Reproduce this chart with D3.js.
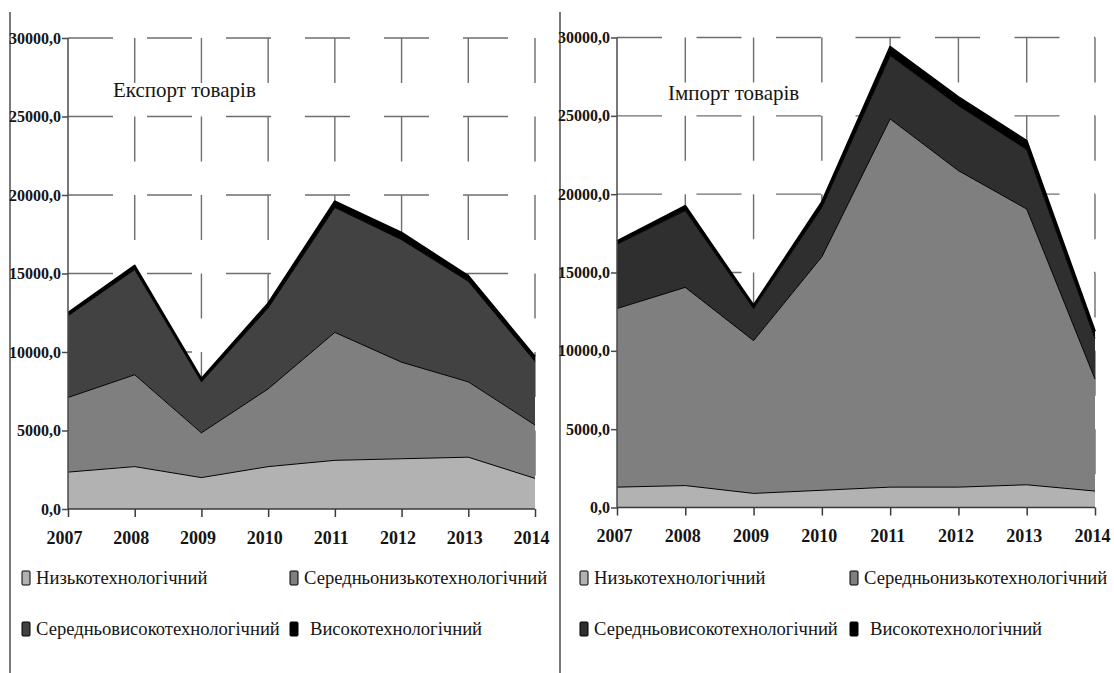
<!DOCTYPE html>
<html>
<head>
<meta charset="utf-8">
<script src="https://cdn.jsdelivr.net/npm/d3@7"></script>
<style>
  body { margin: 0; background: #fff; }
  text { font-family: 'Liberation Serif', 'DejaVu Serif', serif; fill: #151515; }
</style>
</head>
<body>
<div id="chart"></div>
<script>
// Years on the x axis
const years = [2007, 2008, 2009, 2010, 2011, 2012, 2013, 2014]

const seriesNames = [
  'Низькотехнологічний',
  'Середньонизькотехнологічний',
  'Середньовисокотехнологічний',
  'Високотехнологічний'
]

// Export of goods
const exportLow = [2350, 2700, 2000, 2700, 3100, 3200, 3300, 1950]
const exportMidLow = [4750, 5850, 2850, 4950, 8150, 6150, 4800, 3400]
const exportMidHigh = [5200, 6700, 3250, 5150, 7950, 7800, 6400, 4050]
const exportHigh = [200, 250, 200, 300, 400, 450, 350, 300]

// Import of goods
const importLow = [1300, 1400, 900, 1100, 1300, 1300, 1450, 1050]
const importMidLow = [11400, 12650, 9750, 14900, 23500, 20200, 17600, 7150]
const importMidHigh = [4100, 4900, 2050, 3150, 4050, 4150, 3800, 2600]
const importHigh = [200, 300, 200, 350, 550, 550, 550, 450]

const yTicks = [0, 5000, 10000, 15000, 20000, 25000, 30000]

const width = 1114
const height = 673

const svg = d3
  .select('#chart')
  .append('svg')
  .attr('width', width)
  .attr('height', height)

// panel dividers
svg.append('line')
  .attr('x1', 10).attr('x2', 10).attr('y1', 12).attr('y2', height)
  .attr('stroke', '#7a7a7a').attr('stroke-width', 2)
svg.append('line')
  .attr('x1', 560).attr('x2', 560).attr('y1', 12).attr('y2', height)
  .attr('stroke', '#7a7a7a').attr('stroke-width', 2)

const fmt = d => d3.format('.1f')(d).replace('.', ',')

function drawPanel(opts) {
  const rows = years.map((year, i) => ({
    year: year,
    low: opts.values[0][i],
    midLow: opts.values[1][i],
    midHigh: opts.values[2][i],
    high: opts.values[3][i]
  }))
  const keys = ['low', 'midLow', 'midHigh', 'high']
  const stacked = d3.stack().keys(keys)(rows)

  const xPositionScale = d3.scalePoint().domain(years).range(opts.xRange)
  const yPositionScale = d3.scaleLinear().domain([0, 30000]).range(opts.yRange)

  const left = opts.xRange[0]
  const right = opts.xRange[1]
  const step = yPositionScale(25000) - yPositionScale(30000)

  const g = svg.append('g')

  // dashed background grid
  g.selectAll('.h-grid')
    .data(yTicks.filter(d => d > 0))
    .enter()
    .append('line')
    .attr('x1', left)
    .attr('x2', right)
    .attr('y1', d => yPositionScale(d))
    .attr('y2', d => yPositionScale(d))
    .attr('stroke', '#6e6e6e')
    .attr('stroke-width', 1.4)
    .attr('stroke-dasharray', '45,' + (opts.hPeriod - 45))

  g.selectAll('.v-grid')
    .data(years.slice(1))
    .enter()
    .append('line')
    .attr('x1', d => xPositionScale(d))
    .attr('x2', d => xPositionScale(d))
    .attr('y1', yPositionScale(30000))
    .attr('y2', yPositionScale(0))
    .attr('stroke', '#6e6e6e')
    .attr('stroke-width', 1.4)
    .attr('stroke-dasharray', '45,' + (step - 45))

  const area = d3.area()
    .x(d => xPositionScale(d.data.year))
    .y0(d => yPositionScale(d[0]))
    .y1(d => yPositionScale(d[1]))

  const topLine = d3.line()
    .x(d => xPositionScale(d.data.year))
    .y(d => yPositionScale(d[1]))

  g.selectAll('.area')
    .data(stacked)
    .enter()
    .append('path')
    .attr('d', area)
    .attr('fill', (d, i) => opts.colors[i])

  g.selectAll('.top-line')
    .data(stacked)
    .enter()
    .append('path')
    .attr('d', topLine)
    .attr('fill', 'none')
    .attr('stroke', '#000')
    .attr('stroke-width', (d, i) => i === 3 ? 2 : 1)
    .attr('stroke-linejoin', 'round')

  // axes
  const yAxis = d3.axisLeft(yPositionScale)
    .tickValues(yTicks)
    .tickSize(6)
    .tickPadding(1)
    .tickFormat(fmt)

  const yG = g.append('g')
    .attr('transform', 'translate(' + left + ',0)')
    .call(yAxis)
  yG.selectAll('path, line').attr('stroke', '#4a4a4a').attr('stroke-width', 1.5)
  yG.select('.domain').attr('d', 'M0,' + yPositionScale(30000) + 'V' + yPositionScale(0))
  yG.selectAll('text')
    .attr('font-family', "'Liberation Serif', serif")
    .attr('font-size', 16)
    .attr('font-weight', 'bold')
    .attr('fill', '#1a1a1a')

  const xAxis = d3.axisBottom(xPositionScale)
    .tickSize(8)
    .tickPadding(14)

  const xG = g.append('g')
    .attr('transform', 'translate(0,' + yPositionScale(0) + ')')
    .call(xAxis)
  xG.selectAll('path, line').attr('stroke', '#3a3a3a').attr('stroke-width', 1.5)
  xG.select('.domain').attr('d', 'M' + left + ',0H' + right)
  xG.selectAll('text')
    .attr('font-family', "'Liberation Serif', serif")
    .attr('font-size', 18)
    .attr('font-weight', 'bold')
    .attr('fill', '#1a1a1a')
    .attr('dx', opts.labelDx)

  // title
  g.append('text')
    .attr('x', opts.title[1])
    .attr('y', opts.title[2])
    .attr('font-size', 21)
    .text(opts.title[0])

  // legend
  const legend = g.selectAll('.legend')
    .data(seriesNames)
    .enter()
    .append('g')
    .attr('transform', (d, i) => {
      const lx = i % 2 === 0 ? opts.legendX[0] : opts.legendX[1]
      const ly = i < 2 ? 578 : 629
      return 'translate(' + lx + ',' + ly + ')'
    })

  legend.append('rect')
    .attr('x', 0)
    .attr('y', -7)
    .attr('width', 8)
    .attr('height', 14)
    .attr('rx', 1)
    .attr('fill', (d, i) => opts.colors[i])
    .attr('stroke', '#000')
    .attr('stroke-width', 1)

  legend.append('text')
    .attr('x', (d, i) => i === 3 ? 20 : 14)
    .attr('y', 6)
    .attr('font-size', 18.6)
    .text(d => d)
}

drawPanel({
  values: [exportLow, exportMidLow, exportMidHigh, exportHigh],
  xRange: [68, 535],
  yRange: [509, 38],
  hPeriod: 79,
  colors: ['#b2b2b2', '#7f7f7f', '#424242', '#000000'],
  title: ['Експорт товарів', 113, 97],
  legendX: [22, 290],
  labelDx: -4
})

drawPanel({
  values: [importLow, importMidLow, importMidHigh, importHigh],
  xRange: [617, 1095],
  yRange: [507.5, 37.5],
  hPeriod: 79.5,
  colors: ['#b2b2b2', '#7f7f7f', '#2f2f2f', '#000000'],
  title: ['Імпорт товарів', 668, 100],
  legendX: [580, 850],
  labelDx: -3
})
</script>
</body>
</html>
